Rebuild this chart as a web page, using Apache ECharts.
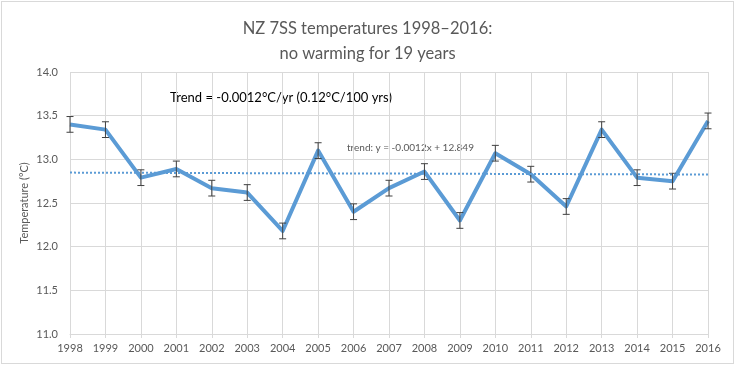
<!DOCTYPE html>
<html>
<head>
<meta charset="utf-8">
<script src="https://cdn.jsdelivr.net/npm/echarts@6/dist/echarts.min.js"></script>
<style>
html,body{margin:0;padding:0;background:#fff;}
#frame{position:absolute;left:1px;top:1px;width:731px;height:361px;border:1px solid #d9d9d9;}
#chart{position:absolute;left:0;top:0;width:735px;height:365px;}
</style>
</head>
<body>
<div id="frame"></div>
<div id="chart"></div>
<script>
const years = ['1998','1999','2000','2001','2002','2003','2004','2005','2006','2007','2008','2009','2010','2011','2012','2013','2014','2015','2016'];
const temps = [13.40,13.34,12.79,12.89,12.67,12.62,12.18,13.10,12.40,12.67,12.86,12.30,13.07,12.83,12.46,13.34,12.79,12.75,13.44];
const errors = [0.09,0.09,0.09,0.09,0.09,0.09,0.09,0.09,0.09,0.09,0.09,0.09,0.09,0.09,0.09,0.09,0.09,0.09,0.09];
const trendEnds = [12.848, 12.826];
const yTicks = ['11.0','11.5','12.0','12.5','13.0','13.5','14.0'];

const FONT = 'Lato, "Open Sans", sans-serif';
const chart = echarts.init(document.getElementById('chart'), null, {renderer:'canvas'});
const errData = years.map((y,i)=>[i, temps[i]-errors[i], temps[i]+errors[i]]);

chart.setOption({
  animation:false,
  backgroundColor:'transparent',
  title:{
    text:'NZ 7SS temperatures 1998\u20132016:\nno warming for 19 years',
    left:'center', top:11,
    textStyle:{fontFamily:FONT,fontSize:16.5,fontWeight:'normal',color:'#595959',lineHeight:25}
  },
  grid:{left:70,right:27,top:72,bottom:31,containLabel:false},
  xAxis:{
    type:'category', data:years, boundaryGap:false,
    axisLine:{show:true,lineStyle:{color:'#d9d9d9'}},
    axisTick:{show:true,length:4,lineStyle:{color:'#d9d9d9'}},
    axisLabel:{fontFamily:FONT,fontSize:11,color:'#595959',margin:9,interval:0},
    splitLine:{show:true,lineStyle:{color:'#d9d9d9',width:1}}
  },
  yAxis:{
    type:'value', min:11, max:14, interval:0.5,
    name:'Temperature (\u00b0C)', nameLocation:'middle', nameGap:40, nameRotate:90,
    nameMoveOverlap:false,
    nameTextStyle:{fontFamily:FONT,fontSize:11,color:'#595959'},
    axisLine:{show:false}, axisTick:{show:false},
    axisLabel:{fontFamily:FONT,fontSize:11,color:'#595959',margin:12,
      formatter:(v)=>yTicks[Math.round((v-11)/0.5)] || v.toFixed(1)},
    splitLine:{show:true,lineStyle:{color:'#d9d9d9',width:1}}
  },
  series:[
    {
      type:'line', data:temps, symbol:'none',
      lineStyle:{color:'#5b9bd5',width:4,join:'round'},
      z:3,
      markLine:{
        silent:true, symbol:'none',
        lineStyle:{color:'#5b9bd5',width:2,type:[2,2]},
        label:{show:false},
        data:[[{coord:[years[0],trendEnds[0]]},{coord:[years[years.length-1],trendEnds[1]]}]]
      }
    },
    {
      type:'custom', data:errData, z:4,
      renderItem:function(params, api){
        const i = api.value(0);
        const lo = api.coord([i, api.value(1)]);
        const hi = api.coord([i, api.value(2)]);
        const w = 3.5;
        const st = {stroke:'#404040',lineWidth:1};
        return {type:'group',children:[
          {type:'line',shape:{x1:lo[0],y1:lo[1],x2:hi[0],y2:hi[1]},style:st},
          {type:'line',shape:{x1:lo[0]-w,y1:lo[1],x2:lo[0]+w,y2:lo[1]},style:st},
          {type:'line',shape:{x1:hi[0]-w,y1:hi[1],x2:hi[0]+w,y2:hi[1]},style:st}
        ]};
      }
    }
  ],
  graphic:[
    {type:'text',x:170,y:98,style:{text:'Trend = -0.0012\u00b0C/yr (0.12\u00b0C/100 yrs)',fontFamily:FONT,fontSize:13,fill:'#000',verticalAlign:'middle',align:'left'}},
    {type:'text',x:347,y:148,style:{text:'trend: y = -0.0012x + 12.849',fontFamily:FONT,fontSize:10,fill:'#595959',verticalAlign:'middle',align:'left'}}
  ]
});
</script>
</body>
</html>
